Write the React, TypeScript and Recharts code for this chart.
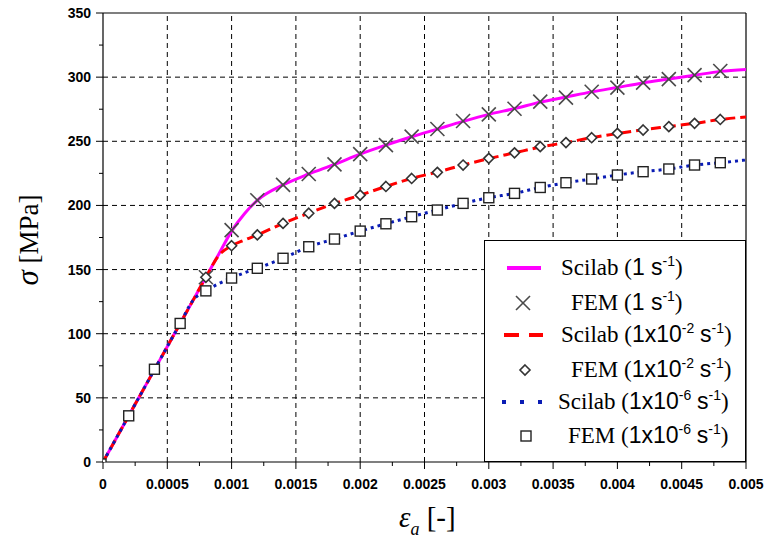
import React from 'react';
import { ComposedChart, Line, Scatter, XAxis, YAxis, ReferenceLine, Legend } from 'recharts';

// strain points of the Scilab curves
const lineStrain = [0, 0.0002, 0.0004, 0.0006, 0.0007, 0.0008, 0.0009, 0.001, 0.0011, 0.0012, 0.0014, 0.0016, 0.0018, 0.002, 0.0022, 0.0024, 0.0026, 0.0028, 0.003, 0.0032, 0.0034, 0.0036, 0.0038, 0.004, 0.0042, 0.0044, 0.0046, 0.0048, 0.005];
const scilab1 = [0, 36, 72, 108, 126, 144, 162, 180, 193.5, 204, 216, 224.5, 232, 240, 247, 253.5, 259.5, 265.5, 271, 275.5, 280.5, 284.5, 288.5, 292, 295.5, 298.5, 301.5, 304.5, 306];
const scilab2 = [0, 36, 72, 108, 126, 144, 161, 168.5, 173, 177, 186, 194, 201.5, 208, 214.8, 221, 226, 231.5, 236.5, 241, 245.5, 249, 252.8, 256, 259, 261.5, 264, 267, 269];
const scilab6 = [0, 36, 72, 108, 126, 133.5, 139, 143.5, 147.5, 151, 158.8, 167.8, 173.8, 180, 185.7, 191.2, 196.4, 201.6, 206, 209.4, 214, 217.7, 220.6, 223.7, 226.3, 228.4, 231.5, 233.3, 235.4];

// FEM points
const femStrain = [0.0008, 0.001, 0.0012, 0.0014, 0.0016, 0.0018, 0.002, 0.0022, 0.0024, 0.0026, 0.0028, 0.003, 0.0032, 0.0034, 0.0036, 0.0038, 0.004, 0.0042, 0.0044, 0.0046, 0.0048];
const fem1 = [144, 180.8, 204, 216, 224.5, 232, 240, 247, 253.6, 259.6, 265.8, 271, 275.4, 280.9, 284, 288.6, 291.8, 295.7, 298.5, 301.6, 304.8];
const fem2 = [144, 168.6, 177, 186, 193.9, 201.6, 208, 214.8, 221, 225.8, 231.5, 236.7, 241, 245.8, 249, 252.8, 256.2, 258.8, 261.4, 264, 267];
const femStrain6 = [0, 0.0002, 0.0004, 0.0006, ...femStrain];
const fem6 = [0, 36, 72.3, 108, 133.4, 143.4, 151, 158.8, 167.8, 173.8, 180, 185.7, 191.2, 196.4, 201.6, 206, 209.4, 214, 217.7, 220.6, 223.7, 226.3, 228.4, 231.5, 233.3];

const xMajor = [0, 0.0005, 0.001, 0.0015, 0.002, 0.0025, 0.003, 0.0035, 0.004, 0.0045, 0.005];
const xMinor = [0.00025, 0.00075, 0.00125, 0.00175, 0.00225, 0.00275, 0.00325, 0.00375, 0.00425, 0.00475];
const yMajor = [0, 50, 100, 150, 200, 250, 300, 350];
const yMinor = [25, 75, 125, 175, 225, 275, 325];

const toPoints = (xs: number[], ys: number[]) => xs.map((x, i) => ({ strain: x, stress: ys[i] }));

const MAGENTA = '#ff00ff';
const RED = '#ff0000';
const BLUE = '#0a1cb4';
const SANS = 'Liberation Sans, Arial, sans-serif';
const SERIF = 'Liberation Serif, Times New Roman, serif';

const XTick = ({ x, y, payload }: any) => {
  const major = xMajor.includes(payload.value);
  return (
    <g>
      <line x1={x} x2={x} y1={y} y2={y + (major ? 7 : 4)} stroke="#000" />
      {major && (
        <text x={x} y={y + 27} textAnchor="middle" fontFamily={SANS} fontWeight="bold" fontSize={14} fill="#000">
          {String(payload.value)}
        </text>
      )}
    </g>
  );
};

const YTick = ({ x, y, payload }: any) => {
  const major = yMajor.includes(payload.value);
  return (
    <g>
      <line x1={x} x2={x - (major ? 7 : 4)} y1={y} y2={y} stroke="#000" />
      {major && (
        <text x={x - 12} y={y + 5} textAnchor="end" fontFamily={SANS} fontWeight="bold" fontSize={14} fill="#000">
          {payload.value}
        </text>
      )}
    </g>
  );
};

const Cross = ({ cx, cy }: any) => (
  <g stroke="#4a4a4a" strokeWidth={1.6}>
    <line x1={cx - 7} y1={cy - 7} x2={cx + 7} y2={cy + 7} />
    <line x1={cx - 7} y1={cy + 7} x2={cx + 7} y2={cy - 7} />
  </g>
);

const Diamond = ({ cx, cy }: any) => (
  <polygon points={`${cx},${cy - 5} ${cx + 5},${cy} ${cx},${cy + 5} ${cx - 5},${cy}`} fill="#fff" stroke="#333" strokeWidth={1.6} />
);

const Square = ({ cx, cy, payload }: any) => {
  const h = payload && payload.stress === 0 ? 3 : 5;
  return <rect x={cx - h} y={cy - h} width={h * 2} height={h * 2} fill="#fff" stroke="#222" strokeWidth={1.4} />;
};

const Sup = ({ children }: any) => (
  <tspan fontFamily={SANS} fontSize={14} dy={-9}>{children}</tspan>
);

function LegendBox() {
  const rows = [27, 62, 94, 129, 161, 195];
  const fs = 23;
  return (
    <div style={{ width: 262, height: 222, border: '1.5px solid #000', background: '#fff', boxSizing: 'border-box' }}>
      <svg width={259} height={219}>
        <line x1={22} x2={56} y1={rows[0]} y2={rows[0]} stroke={MAGENTA} strokeWidth={4} />
        <text x={76} y={rows[0] + 7} fontFamily={SERIF} fontSize={fs}>
          Scilab (<tspan fontFamily={SANS}>1 s</tspan><Sup>-1</Sup><tspan dy={9}>)</tspan>
        </text>

        <Cross cx={38} cy={rows[1]} />
        <text x={86} y={rows[1] + 7} fontFamily={SERIF} fontSize={fs}>
          FEM  (<tspan fontFamily={SANS}>1 s</tspan><Sup>-1</Sup><tspan dy={9}>)</tspan>
        </text>

        <line x1={19} x2={58} y1={rows[2]} y2={rows[2]} stroke={RED} strokeWidth={4} strokeDasharray="15 10" />
        <text x={76} y={rows[2] + 7} fontFamily={SERIF} fontSize={fs}>
          Scilab (<tspan fontFamily={SANS}>1x10</tspan><Sup>-2</Sup><tspan dy={9}> </tspan><tspan fontFamily={SANS}>s</tspan><Sup>-1</Sup><tspan dy={9}>)</tspan>
        </text>

        <Diamond cx={40} cy={rows[3]} />
        <text x={86} y={rows[3] + 7} fontFamily={SERIF} fontSize={fs}>
          FEM (<tspan fontFamily={SANS}>1x10</tspan><Sup>-2</Sup><tspan dy={9}> </tspan><tspan fontFamily={SANS}>s</tspan><Sup>-1</Sup><tspan dy={9}>)</tspan>
        </text>

        <line x1={17} x2={59} y1={rows[4]} y2={rows[4]} stroke={BLUE} strokeWidth={4} strokeDasharray="4 14" />
        <text x={73} y={rows[4] + 7} fontFamily={SERIF} fontSize={fs}>
          Scilab (<tspan fontFamily={SANS}>1x10</tspan><Sup>-6</Sup><tspan dy={9}> </tspan><tspan fontFamily={SANS}>s</tspan><Sup>-1</Sup><tspan dy={9}>)</tspan>
        </text>

        <Square cx={41} cy={rows[5]} />
        <text x={83} y={rows[5] + 7} fontFamily={SERIF} fontSize={fs}>
          FEM (<tspan fontFamily={SANS}>1x10</tspan><Sup>-6</Sup><tspan dy={9}> </tspan><tspan fontFamily={SANS}>s</tspan><Sup>-1</Sup><tspan dy={9}>)</tspan>
        </text>
      </svg>
    </div>
  );
}

const XLabel = () => (
  <text x={399} y={527} fontFamily={SERIF} fontSize={29} fill="#000">
    <tspan fontStyle="italic">ε</tspan>
    <tspan fontStyle="italic" fontSize={18} dy={8}>a</tspan>
    <tspan dy={-8}> [-]</tspan>
  </text>
);

const YLabel = () => (
  <text transform="translate(38,240) rotate(-90)" textAnchor="middle" fontFamily={SERIF} fontSize={27} fill="#000">
    <tspan fontStyle="italic" fontSize={31}>σ</tspan>
    <tspan>  [MPa]</tspan>
  </text>
);

export default function App() {
  const gridX = xMajor.slice(1, -1);
  const gridY = yMajor.slice(1, -1);
  return (
    <div style={{ position: 'absolute', left: 0, top: 0, background: '#fff' }}>
      <ComposedChart width={768} height={543} margin={{ top: 13, right: 22, bottom: 0, left: 0 }}>
        <XAxis
          type="number"
          dataKey="strain"
          domain={[0, 0.005]}
          allowDataOverflow
          ticks={[...xMajor, ...xMinor].sort((a, b) => a - b)}
          interval={0}
          tick={<XTick />}
          tickLine={false}
          tickSize={0}
          tickMargin={0}
          height={81}
          axisLine={{ stroke: '#000', strokeWidth: 1.2 }}
          label={{ content: () => <XLabel /> }}
        />
        <YAxis
          type="number"
          domain={[0, 350]}
          allowDataOverflow
          ticks={[...yMajor, ...yMinor].sort((a, b) => a - b)}
          interval={0}
          tick={<YTick />}
          tickLine={false}
          tickSize={0}
          tickMargin={0}
          width={103}
          axisLine={{ stroke: '#000', strokeWidth: 1.2 }}
          label={{ content: () => <YLabel /> }}
        />
        {gridX.map((v) => (
          <ReferenceLine key={'gx' + v} x={v} stroke="#000" strokeDasharray="5 4" />
        ))}
        {gridY.map((v) => (
          <ReferenceLine key={'gy' + v} y={v} stroke="#000" strokeDasharray="5 4" />
        ))}
        <ReferenceLine y={350} stroke="#000" strokeWidth={1.2} />
        <ReferenceLine x={0.005} stroke="#000" strokeWidth={1.2} />

        <Line data={toPoints(lineStrain, scilab1)} dataKey="stress" type="monotone" stroke={MAGENTA} strokeWidth={3} dot={false} isAnimationActive={false} />
        <Line data={toPoints(lineStrain, scilab2)} dataKey="stress" type="monotone" stroke={RED} strokeWidth={3} strokeDasharray="10 5" dot={false} isAnimationActive={false} />
        <Line data={toPoints(lineStrain, scilab6)} dataKey="stress" type="monotone" stroke={BLUE} strokeWidth={3} strokeDasharray="3 4" dot={false} isAnimationActive={false} />

        <Scatter data={toPoints(femStrain, fem1)} dataKey="stress" shape={<Cross />} isAnimationActive={false} />
        <Scatter data={toPoints(femStrain, fem2)} dataKey="stress" shape={<Diamond />} isAnimationActive={false} />
        <Scatter data={toPoints(femStrain6, fem6)} dataKey="stress" shape={<Square />} isAnimationActive={false} />

        <Legend
          layout="vertical"
          align="center"
          verticalAlign="middle"
          wrapperStyle={{ position: 'absolute', left: 484, top: 240, width: 262, height: 222 }}
          content={() => <LegendBox />}
        />
      </ComposedChart>
    </div>
  );
}
